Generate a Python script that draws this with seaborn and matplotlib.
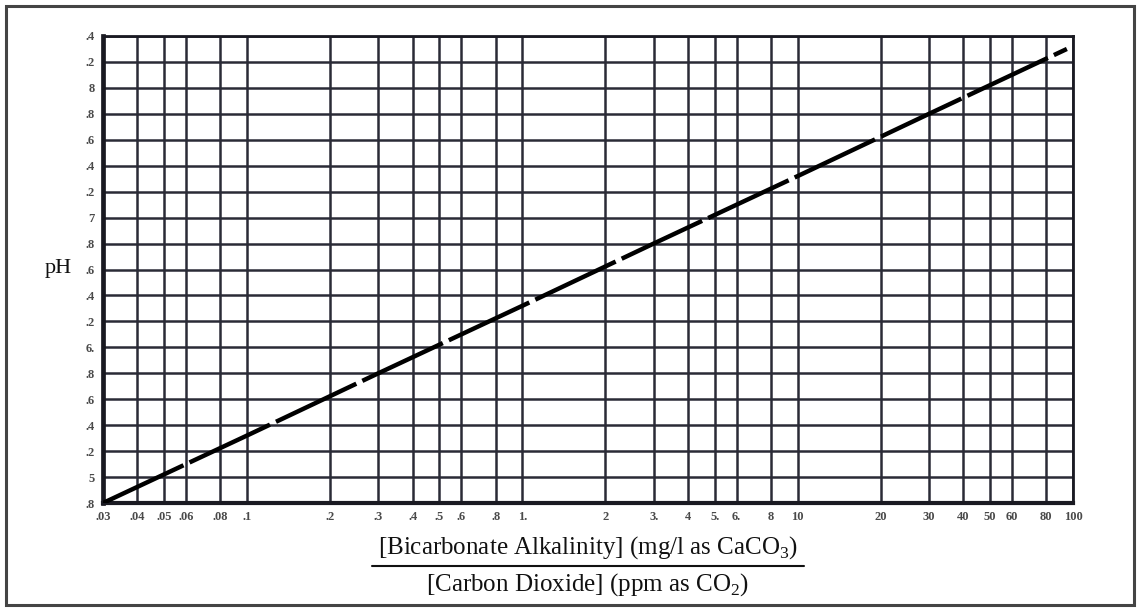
import matplotlib
matplotlib.use("Agg")
import matplotlib.pyplot as plt
import seaborn as sns
import pandas as pd
from matplotlib.patches import Rectangle
from matplotlib.lines import Line2D

# ---- data ----
ratio = [0.03, 0.1, 0.3, 1.0, 3.0, 10.0, 30.0, 95.0]
ph = [4.80, 5.32, 5.80, 6.32, 6.80, 7.32, 7.80, 8.30]

x_ticks = [0.03, 0.04, 0.05, 0.06, 0.08, 0.1, 0.2, 0.3, 0.4, 0.5, 0.6, 0.8, 1,
           2, 3, 4, 5, 6, 8, 10, 20, 30, 40, 50, 60, 80, 100]
x_labels = [".03", ".04", ".05", ".06", ".08", ".1", ".2", ".3", ".4", ".5", ".6", ".8", "1.",
            "2", "3.", "4", "5.", "6.", "8", "10", "20", "30", "40", "50", "60", "80", "100"]
y_ticks = [4.8, 5.0, 5.2, 5.4, 5.6, 5.8, 6.0, 6.2, 6.4, 6.6, 6.8, 7.0, 7.2, 7.4, 7.6, 7.8, 8.0, 8.2, 8.4]
y_labels = [".8", "5", ".2", ".4", ".6", ".8", "6.", ".2", ".4", ".6", ".8", "7", ".2", ".4", ".6",
            ".8", "8", ".2", ".4"]

df = pd.DataFrame({"ratio": ratio, "pH": ph})

sns.set_style("white")
plt.rcParams["font.family"] = ["Liberation Serif", "DejaVu Serif"]
plt.rcParams["mathtext.fontset"] = "custom"
plt.rcParams["mathtext.rm"] = "Liberation Serif"

fig = plt.figure(figsize=(11.4, 6.08), dpi=100)
ax = fig.add_axes([103 / 1140, 105 / 608, 970 / 1140, 467 / 608])

grid_col = "#2a2b36"
for xv in x_ticks:
    ax.axvline(xv, color=grid_col, lw=1.8, zorder=1)
for yv in y_ticks:
    ax.axhline(yv, color=grid_col, lw=1.8, zorder=1)

sns.lineplot(data=df, x="ratio", y="pH", ax=ax, color="black", lw=3.2, zorder=3)
ax.lines[-1].set_dashes([20, 1.5])
ax.lines[-1].set_solid_capstyle("butt")

ax.set_xscale("log")
ax.set_xlim(0.03, 100)
ax.set_ylim(4.8, 8.4)
ax.set_xticks(x_ticks)
ax.set_xticklabels(x_labels)
ax.xaxis.set_minor_locator(matplotlib.ticker.NullLocator())
ax.set_yticks(y_ticks)
ax.set_yticklabels(y_labels)
ax.tick_params(axis="both", length=0, labelsize=9, colors="#4a4a4a", pad=6)
for lab in ax.get_xticklabels() + ax.get_yticklabels():
    lab.set_fontweight("bold")
ax.set_xlabel("")
ax.set_ylabel("")

for side, lw in (("left", 3.4), ("bottom", 3.0), ("top", 2.0), ("right", 2.0)):
    ax.spines[side].set_visible(True)
    ax.spines[side].set_color("#1a1a22")
    ax.spines[side].set_linewidth(lw)

# pH label
fig.text(58 / 1140, 1 - 268 / 608, "pH", fontsize=16, ha="center", va="center", color="#111111")

# fraction x-label
fig.text(588 / 1140, 1 - 548 / 608, r"[Bicarbonate Alkalinity] (mg/l as CaCO$_{\mathrm{3}}$)",
         fontsize=18, ha="center", va="center", color="#111111")
fig.add_artist(Line2D([372 / 1140, 804 / 1140], [1 - 566 / 608, 1 - 566 / 608],
                      color="#111111", lw=1.5, transform=fig.transFigure))
fig.text(588 / 1140, 1 - 585 / 608, r"[Carbon Dioxide] (ppm as CO$_{\mathrm{2}}$)",
         fontsize=18, ha="center", va="center", color="#111111")

# outer frame
fig.add_artist(Rectangle((6 / 1140, 3 / 608), 1128 / 1140, 599 / 608, fill=False,
                         edgecolor="#444444", lw=2.2, transform=fig.transFigure))

fig.savefig("out.png", dpi=100)
